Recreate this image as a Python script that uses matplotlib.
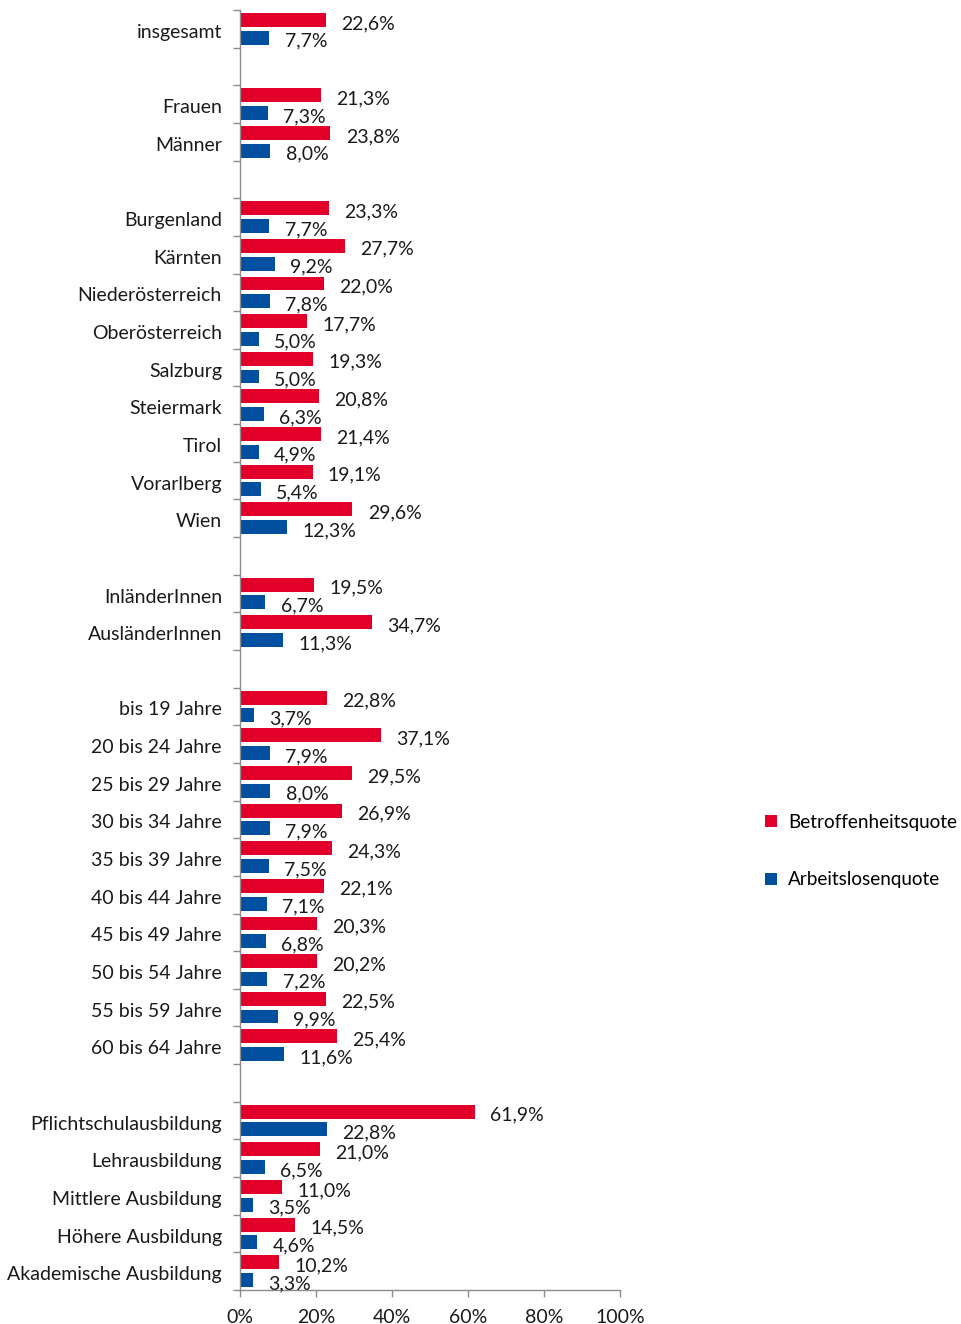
import numpy as np
import matplotlib
matplotlib.use("Agg")
import matplotlib.pyplot as plt
from matplotlib.patches import Patch
from matplotlib.ticker import FixedLocator
from matplotlib.transforms import ScaledTranslation

plt.rcParams['font.family'] = ['Lato', 'DejaVu Sans']

categories = [
    "insgesamt", "",
    "Frauen", "Männer", "",
    "Burgenland", "Kärnten", "Niederösterreich", "Oberösterreich", "Salzburg",
    "Steiermark", "Tirol", "Vorarlberg", "Wien", "",
    "InländerInnen", "AusländerInnen", "",
    "bis 19 Jahre", "20 bis 24 Jahre", "25 bis 29 Jahre", "30 bis 34 Jahre",
    "35 bis 39 Jahre", "40 bis 44 Jahre", "45 bis 49 Jahre", "50 bis 54 Jahre",
    "55 bis 59 Jahre", "60 bis 64 Jahre", "",
    "Pflichtschulausbildung", "Lehrausbildung", "Mittlere Ausbildung",
    "Höhere Ausbildung", "Akademische Ausbildung",
]

betroffenheitsquote = [
    22.6, None,
    21.3, 23.8, None,
    23.3, 27.7, 22.0, 17.7, 19.3, 20.8, 21.4, 19.1, 29.6, None,
    19.5, 34.7, None,
    22.8, 37.1, 29.5, 26.9, 24.3, 22.1, 20.3, 20.2, 22.5, 25.4, None,
    61.9, 21.0, 11.0, 14.5, 10.2,
]

arbeitslosenquote = [
    7.7, None,
    7.3, 8.0, None,
    7.7, 9.2, 7.8, 5.0, 5.0, 6.3, 4.9, 5.4, 12.3, None,
    6.7, 11.3, None,
    3.7, 7.9, 8.0, 7.9, 7.5, 7.1, 6.8, 7.2, 9.9, 11.6, None,
    22.8, 6.5, 3.5, 4.6, 3.3,
]

series_names = ["Betroffenheitsquote", "Arbeitslosenquote"]
x_ticks = [0, 20, 40, 60, 80, 100]

RED = "#E2002B"
BLUE = "#00509F"
AXIS_GREY = "#8C8C8C"
TEXT = "#1a1a1a"
FS = 14

W, H = 962, 1324
fig = plt.figure(figsize=(W / 100, H / 100), dpi=100)
ax = fig.add_axes([240 / W, 34 / H, 380 / W, (1290 - 10) / H])

n = len(categories)
pos = np.arange(n)
bar_h = 0.37
off = 0.235

def fmt(v):
    return f"{v:.1f}".replace(".", ",") + "%"

for vals, color, sign in ((betroffenheitsquote, RED, -1), (arbeitslosenquote, BLUE, 1)):
    arr = np.array([np.nan if v is None else v for v in vals], dtype=float)
    mask = ~np.isnan(arr)
    ys = pos[mask] + sign * off
    ax.barh(ys, arr[mask], height=bar_h, color=color, edgecolor="none")
    for y, v in zip(ys, arr[mask]):
        ax.annotate(fmt(v), xy=(v, y), xytext=(11, -2.5), textcoords="offset points",
                    ha="left", va="center", fontsize=FS, color=TEXT)

ax.set_xlim(0, 100)
ax.set_ylim(n - 0.5, -0.5)

ax.set_yticks(pos)
ax.set_yticklabels(categories, fontsize=FS, color=TEXT)
ax.yaxis.set_minor_locator(FixedLocator(np.arange(n + 1) - 0.5))
ax.tick_params(axis="y", which="major", length=0, pad=13)
ax.tick_params(axis="y", which="minor", length=5, color=AXIS_GREY, width=1)
shift = ScaledTranslation(0, -2 / 100, fig.dpi_scale_trans)
for lbl in ax.get_yticklabels():
    lbl.set_transform(lbl.get_transform() + shift)

ax.set_xticks(x_ticks)
ax.set_xticklabels([f"{t}%" for t in x_ticks], fontsize=FS, color=TEXT)
ax.tick_params(axis="x", length=5, color=AXIS_GREY, width=1, pad=9)

for s in ("top", "right"):
    ax.spines[s].set_visible(False)
for s in ("left", "bottom"):
    ax.spines[s].set_color(AXIS_GREY)
    ax.spines[s].set_linewidth(1)

handles = [Patch(facecolor=RED, edgecolor="none"), Patch(facecolor=BLUE, edgecolor="none")]
fig.legend(handles, series_names, loc="center left",
           bbox_to_anchor=(765 / W, 1 - 851 / H), frameon=False, fontsize=13.6,
           borderpad=0, borderaxespad=0,
           handlelength=0.62, handleheight=0.62, handletextpad=0.62, labelspacing=2.15)

fig.savefig("out.png", dpi=100)
